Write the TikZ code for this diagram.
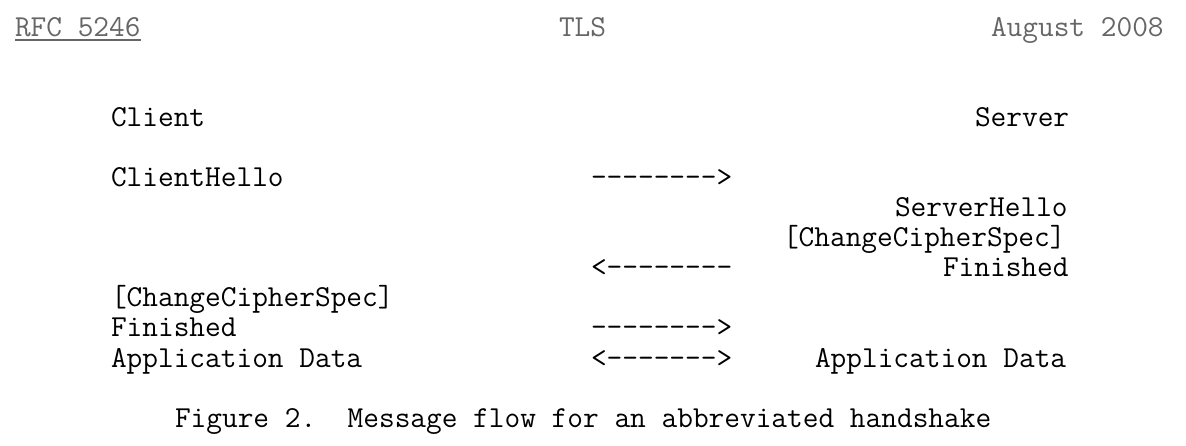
\documentclass[tikz,border=0pt]{standalone}
\usetikzlibrary{positioning}
\definecolor{hdrgray}{HTML}{666666}
\frenchspacing
\begin{document}
\begin{tikzpicture}[x=1pt, y=1pt,
      every node/.style={inner sep=0pt, outer sep=0pt, anchor=base west,
                         font=\ttfamily\fontsize{30.48}{30}\selectfont},
      hdr/.style={text=hdrgray},
      msg/.style={text=black},
  ]
    \useasboundingbox (0,0) rectangle (1186,-446);

    % Page header
    \node[hdr] (rfc)  at (15,-37)  {RFC 5246};
    \node[hdr] (tls)  at (559,-37) {TLS};
    \node[hdr] (date) at (991,-37) {August 2008};
    \draw[hdrgray, line width=1.4pt]
      ([yshift=-2.5pt]rfc.south west) -- ([yshift=-2.5pt]rfc.south east);

    % Parties
    \node[msg] (client) at (111,-127) {Client};
    \node[msg] (server) at (975,-127) {Server};

    % Client -> server
    \node[msg] (chello) at (111,-187) {ClientHello};
    \node[msg] (arr1)   at (591,-187) {-------->};

    % Server -> client
    \node[msg] (shello) at (895,-217) {ServerHello};
    \node[msg] (sccs)   at (783,-247) {[ChangeCipherSpec]};
    \node[msg] (arr2)   at (591,-277) {<--------};
    \node[msg] (sfin)   at (943,-277) {Finished};

    % Client finishes
    \node[msg] (cccs)   at (111,-307) {[ChangeCipherSpec]};
    \node[msg] (cfin)   at (111,-337) {Finished};
    \node[msg] (arr3)   at (591,-337) {-------->};

    % Application data both ways
    \node[msg] (cdata)  at (111,-367) {Application Data};
    \node[msg] (arr4)   at (591,-367) {<------->};
    \node[msg] (sdata)  at (815,-367) {Application Data};

    % Caption
    \node[msg] (caption) at (175,-427)
      {Figure 2.\ \ Message flow for an abbreviated handshake};
  \end{tikzpicture}
\end{document}
